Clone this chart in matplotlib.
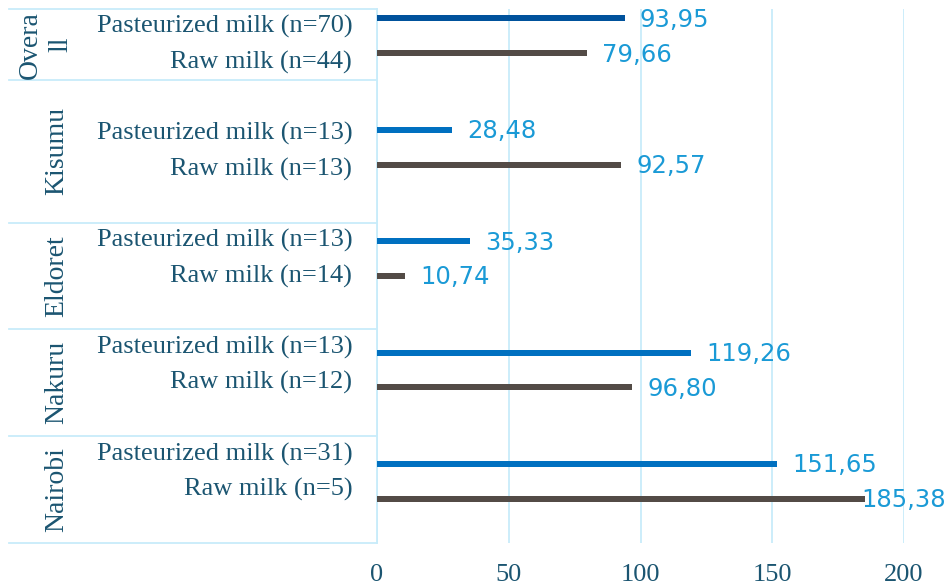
import matplotlib.pyplot as plt
import matplotlib.transforms as mtransforms

# groups from bottom to top
groups = ["Nairobi", "Nakuru", "Eldoret", "Kisumu", "Overa\nll"]
past_labels = ["Pasteurized milk (n=31)", "Pasteurized milk (n=13)", "Pasteurized milk (n=13)",
               "Pasteurized milk (n=13)", "Pasteurized milk (n=70)"]
raw_labels = ["Raw milk (n=5)", "Raw milk (n=12)", "Raw milk (n=14)",
              "Raw milk (n=13)", "Raw milk (n=44)"]
past_vals = [151.65, 119.26, 35.33, 28.48, 93.95]
raw_vals = [185.38, 96.80, 10.74, 92.57, 79.66]
group_bounds = [0, 3, 6, 9, 13, 15]
xticks = [0, 50, 100, 150, 200]

text_col = "#1b5571"
lab_col = "#1a9ad6"
grid_col = "#c8ecfa"
past_col = "#0070c0"
overall_col = "#00529c"
raw_col = "#534b46"

fig = plt.figure(figsize=(9.47, 5.87), dpi=100)
ax = fig.add_axes([377/947, 1-543/587, 527/947, 534/587])

serif = "Liberation Serif"
fs = 19

for g in range(len(groups)):
    yc = 1.73 + 3.13*g
    yp, yr = yc + 0.49, yc - 0.49
    pc = overall_col if g == len(groups)-1 else past_col
    ax.barh(yp, past_vals[g], height=0.17, color=pc, zorder=3)
    ax.barh(yr, raw_vals[g], height=0.17, color=raw_col, zorder=3)
    for v, y in [(past_vals[g], yp), (raw_vals[g], yr)]:
        off = 11 if v < 180 else -3
        ax.annotate(("%.2f" % v).replace(".", ","), (v, y), xytext=(off, -1),
                    textcoords="offset points", va="center", ha="left",
                    color=lab_col, fontsize=17.5, family="DejaVu Sans",
                    annotation_clip=False, zorder=4)

trans = mtransforms.blended_transform_factory(ax.transAxes, ax.transData)
for g in range(len(groups)):
    ax.text(-0.047, 3*g + 2.5, past_labels[g], transform=trans, ha="right", va="center",
            fontsize=fs, family=serif, color=text_col)
    ax.text(-0.047, 3*g + 1.5, raw_labels[g], transform=trans, ha="right", va="center",
            fontsize=fs, family=serif, color=text_col)
    gx = -0.628 if "\n" in groups[g] else -0.607
    ax.text(gx, (group_bounds[g] + group_bounds[g+1])/2, groups[g], transform=trans,
            rotation=90, ha="center", va="center", fontsize=20, family=serif,
            color=text_col, linespacing=1.3, multialignment="center")

for b in group_bounds:
    ax.plot([-0.698, 0], [b, b], transform=trans, color=grid_col, lw=1.3, clip_on=False)

ax.set_xlim(0, 200)
ax.set_ylim(0, 15)
ax.set_xticks(xticks)
ax.set_yticks([])
ax.xaxis.grid(True, color=grid_col, lw=1.3, zorder=0)
ax.set_axisbelow(True)
ax.tick_params(axis="x", length=0, pad=15, labelsize=fs, labelcolor=text_col)
for t in ax.get_xticklabels():
    t.set_family(serif)
for s in ["top", "right", "bottom"]:
    ax.spines[s].set_visible(False)
ax.spines["left"].set_color(grid_col)
ax.spines["left"].set_linewidth(1.3)

plt.savefig("out.png", dpi=100)
